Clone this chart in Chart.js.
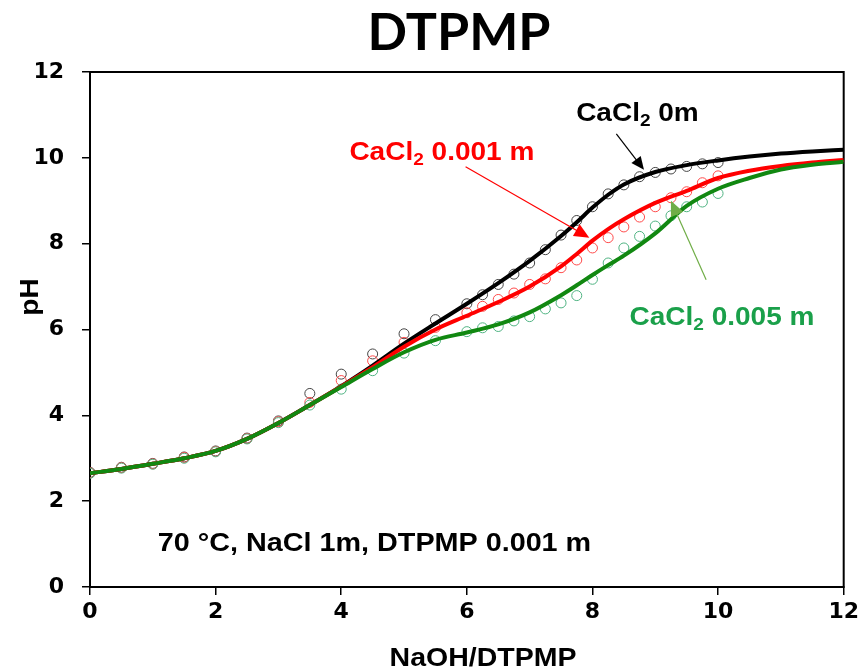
<!DOCTYPE html>
<html>
<head>
<meta charset="utf-8">
<script src="https://cdn.jsdelivr.net/npm/chart.js@4.4.1/dist/chart.umd.min.js"></script>
<style>
  body { margin: 0; background: #fff; }
  canvas { display: block; }
</style>
</head>
<body>
<canvas id="titration" width="863" height="670"></canvas>
<script>
// measured titration points (NaOH/DTPMP ratio vs pH)
const xMeasured = [0, 0.5, 1, 1.5, 2, 2.5, 3, 3.5, 4, 4.5, 5, 5.5, 6,
  6.25, 6.5, 6.75, 7, 7.25, 7.5, 7.75, 8, 8.25, 8.5, 8.75, 9, 9.25, 9.5, 9.75, 10];
const phCa0 = [2.67, 2.79, 2.88, 3.03, 3.17, 3.47, 3.87, 4.51, 4.96, 5.43, 5.9, 6.23, 6.6,
  6.81, 7.05, 7.29, 7.55, 7.86, 8.2, 8.54, 8.86, 9.16, 9.37, 9.56, 9.66, 9.74, 9.8, 9.86, 9.89];
const phCa001 = [2.66, 2.78, 2.87, 3.02, 3.16, 3.46, 3.85, 4.3, 4.81, 5.27, 5.7, 6.05, 6.39,
  6.54, 6.7, 6.85, 7.05, 7.18, 7.44, 7.62, 7.9, 8.14, 8.39, 8.62, 8.86, 9.07, 9.21, 9.42, 9.58];
const phCa005 = [2.65, 2.77, 2.86, 3.0, 3.15, 3.45, 3.83, 4.24, 4.61, 5.04, 5.45, 5.74, 5.95,
  6.04, 6.07, 6.2, 6.3, 6.48, 6.62, 6.79, 7.17, 7.55, 7.9, 8.17, 8.41, 8.65, 8.86, 8.97, 9.17];

// model curves
const xModel = [0, 0.5, 1, 1.5, 2, 2.5, 3, 3.5, 4, 4.5, 5, 5.5, 6, 6.5, 7, 7.5, 7.75, 8,
  8.25, 8.5, 9, 9.5, 10, 10.5, 11, 11.5, 12];
const fitCa0 = [2.65, 2.75, 2.87, 3.0, 3.17, 3.45, 3.82, 4.24, 4.68, 5.16, 5.67, 6.14, 6.6,
  7.08, 7.6, 8.18, 8.5, 8.84, 9.14, 9.38, 9.67, 9.83, 9.94, 10.03, 10.1, 10.15, 10.19];
const fitCa001 = [2.65, 2.75, 2.87, 3.0, 3.17, 3.45, 3.82, 4.24, 4.67, 5.12, 5.6, 6.0, 6.32,
  6.64, 7.0, 7.47, 7.76, 8.07, 8.34, 8.57, 8.95, 9.23, 9.53, 9.7, 9.81, 9.89, 9.95];
const fitCa005 = [2.65, 2.75, 2.87, 3.0, 3.17, 3.45, 3.82, 4.24, 4.66, 5.08, 5.47, 5.76, 5.93,
  6.12, 6.4, 6.8, 7.03, 7.27, 7.5, 7.72, 8.24, 8.88, 9.28, 9.53, 9.73, 9.84, 9.91];

const xTicks = [0, 2, 4, 6, 8, 10, 12];
const yTicks = [0, 2, 4, 6, 8, 10, 12];

const tickFont = { family: '"DejaVu Sans"', size: 22, weight: 'bold' };

function pts(xs, ys) {
  return xs.map((x, i) => ({ x: x, y: ys[i] }));
}

function fitLine(label, ys, color, order) {
  return {
    label: label, data: pts(xModel, ys), showLine: true, borderColor: color,
    borderWidth: 4, pointRadius: 0, cubicInterpolationMode: 'monotone', order: order
  };
}

function measured(label, ys, color, order) {
  return {
    label: label, data: pts(xMeasured, ys), showLine: false, borderColor: color,
    backgroundColor: 'rgba(0,0,0,0)', borderWidth: 1, pointRadius: 5, order: order
  };
}

// write text with a subscript part, slightly widened
function richText(ctx, parts, x, y, size, color, stretch) {
  ctx.save();
  ctx.translate(x, y);
  ctx.scale(stretch || 1.12, 1);
  ctx.fillStyle = color;
  ctx.textBaseline = 'alphabetic';
  let cx = 0;
  parts.forEach(([t, sub]) => {
    const fs = sub ? Math.round(size * 0.66) : size;
    ctx.font = 'bold ' + fs + 'px "Liberation Sans"';
    ctx.fillText(t, cx, sub ? size * 0.2 : 0);
    cx += ctx.measureText(t).width;
  });
  ctx.restore();
}

function arrow(ctx, x1, y1, x2, y2, color, width, head) {
  const a = Math.atan2(y2 - y1, x2 - x1);
  ctx.save();
  ctx.strokeStyle = color;
  ctx.fillStyle = color;
  ctx.lineWidth = width;
  ctx.beginPath();
  ctx.moveTo(x1, y1);
  ctx.lineTo(x2 - Math.cos(a) * head * 0.8, y2 - Math.sin(a) * head * 0.8);
  ctx.stroke();
  ctx.beginPath();
  ctx.moveTo(x2, y2);
  ctx.lineTo(x2 - head * Math.cos(a) + head * 0.45 * Math.sin(a), y2 - head * Math.sin(a) - head * 0.45 * Math.cos(a));
  ctx.lineTo(x2 - head * Math.cos(a) - head * 0.45 * Math.sin(a), y2 - head * Math.sin(a) + head * 0.45 * Math.cos(a));
  ctx.closePath();
  ctx.fill();
  ctx.restore();
}

const decorations = {
  id: 'decorations',
  beforeDatasetsDraw(chart) {
    const { ctx, chartArea: a } = chart;
    ctx.save();
    ctx.strokeStyle = '#000';
    ctx.lineWidth = 2;
    ctx.strokeRect(a.left, a.top, a.right - a.left, a.bottom - a.top);
    ctx.restore();
  },
  afterDraw(chart) {
    const { ctx, scales: { x, y } } = chart;
    const px = v => x.getPixelForValue(v);
    const py = v => y.getPixelForValue(v);

    // title
    ctx.save();
    ctx.font = 'bold 52px Lato';
    ctx.fillStyle = '#000';
    ctx.textAlign = 'center';
    ctx.textBaseline = 'alphabetic';
    ctx.fillText('DTPMP', 459, 50);
    ctx.restore();

    // axis titles
    ctx.save();
    ctx.translate(38, 297);
    ctx.rotate(-Math.PI / 2);
    ctx.scale(1.12, 1);
    ctx.font = 'bold 25px "Liberation Sans"';
    ctx.fillStyle = '#000';
    ctx.textAlign = 'center';
    ctx.fillText('pH', 0, 0);
    ctx.restore();

    ctx.save();
    ctx.translate(483, 666);
    ctx.scale(1.14, 1);
    ctx.font = 'bold 25px "Liberation Sans"';
    ctx.fillStyle = '#000';
    ctx.textAlign = 'center';
    ctx.fillText('NaOH/DTPMP', 0, 0);
    ctx.restore();

    // series labels and pointers
    richText(ctx, [['CaCl', false], ['2', true], [' 0m', false]], px(7.74), py(10.86), 25, '#000');
    arrow(ctx, px(8.38), py(10.56), px(8.82), py(9.72), '#000', 1.2, 13);

    richText(ctx, [['CaCl', false], ['2', true], [' 0.001 m', false]], px(4.13), py(9.95), 25, '#ff0000');
    arrow(ctx, px(5.98), py(9.79), px(7.95), py(8.14), '#ff0000', 1.2, 15);

    richText(ctx, [['CaCl', false], ['2', true], [' 0.005 m', false]], px(8.59), py(6.1), 25, '#1aa04a');
    arrow(ctx, px(9.81), py(7.16), px(9.25), py(9.0), '#70ad47', 1.2, 15);

    richText(ctx, [['70 \u00b0C, NaCl 1m, DTPMP 0.001 m', false]], px(1.08), py(0.84), 25, '#000', 1.15);
  }
};

new Chart(document.getElementById('titration'), {
  type: 'scatter',
  data: {
    datasets: [
      fitLine('CaCl2 0.005 m model', fitCa005, '#118811', 0),
      fitLine('CaCl2 0.001 m model', fitCa001, '#ff0000', 1),
      fitLine('CaCl2 0m model', fitCa0, '#000000', 2),
      measured('CaCl2 0.005 m', phCa005, '#4fb382', 3),
      measured('CaCl2 0.001 m', phCa001, '#ff4a4a', 4),
      measured('CaCl2 0m', phCa0, '#444444', 5)
    ]
  },
  options: {
    responsive: false,
    animation: false,
    devicePixelRatio: 1,
    layout: { padding: { top: 72, right: 18, left: 0, bottom: 0 } },
    plugins: { legend: { display: false }, tooltip: { enabled: false } },
    scales: {
      x: {
        type: 'linear', min: 0, max: 12,
        afterBuildTicks: s => { s.ticks = xTicks.map(v => ({ value: v })); },
        afterFit: s => { s.height = 83; },
        ticks: { font: tickFont, color: '#000', padding: 4 },
        grid: { drawOnChartArea: false, tickLength: 8, color: '#000', lineWidth: 1.5 },
        border: { color: '#000', width: 2 }
      },
      y: {
        type: 'linear', min: 0, max: 12,
        afterBuildTicks: s => { s.ticks = yTicks.map(v => ({ value: v })); },
        afterFit: s => { s.width = 90; },
        ticks: { font: tickFont, color: '#000', padding: 18 },
        grid: { drawOnChartArea: false, tickLength: 8, color: '#000', lineWidth: 1.5 },
        border: { color: '#000', width: 2 }
      }
    }
  },
  plugins: [decorations]
});
</script>
</body>
</html>
